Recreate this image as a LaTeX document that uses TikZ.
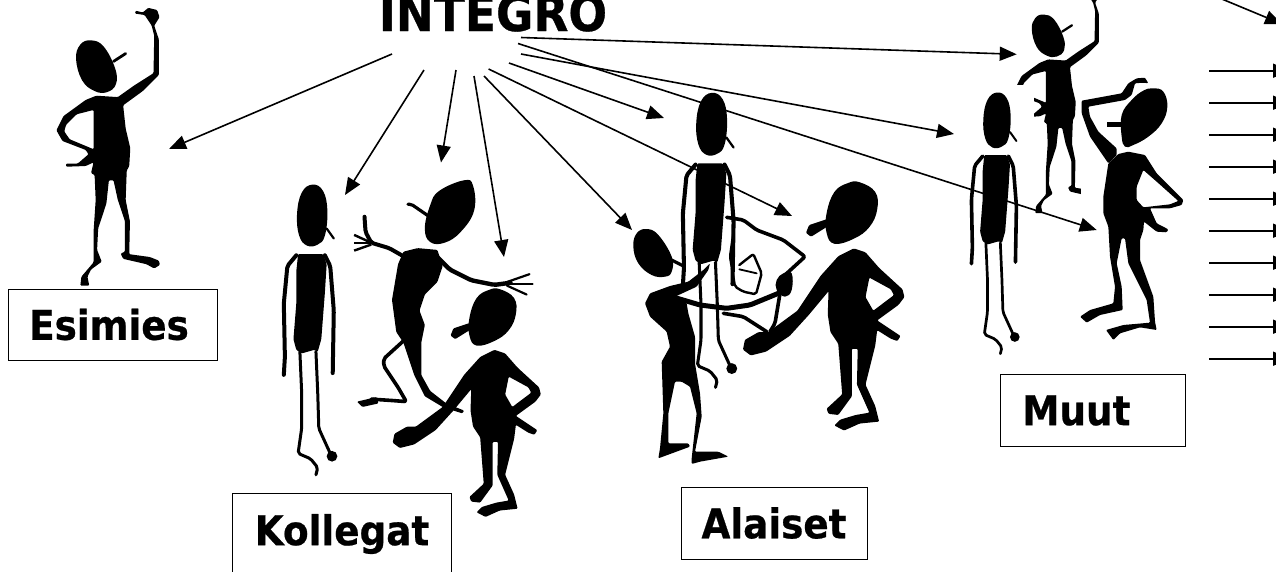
\documentclass[tikz,border=0pt]{standalone}
\usepackage{fontspec}
\setmainfont{DejaVu Sans Bold}[FakeStretch=0.91,FakeBold=0.6]
\usetikzlibrary{arrows.meta}
\tikzset{
    labelbox/.style={draw, line width=1pt, inner sep=0pt, font=\fontsize{41}{41}\selectfont},
    bigarrow/.style={-{Triangle[length=17pt,width=14pt]}, line width=1.6pt},
    limb/.style={draw=black, line width=#1, line cap=round, line join=round, rounded corners=2pt},
    solid part/.style={fill=black, even odd rule, rounded corners=1pt}
}
% arm up, hand on hip
\newcommand{\waverfig}[3]{
    \begin{scope}[shift={(#1,#2)},scale=#3*0.357]
        \fill plot[smooth cycle,tension=.7] coordinates {(255,113) (290,130) (322,190) (325,235) (300,258) (265,255) (230,225) (213,165) (225,125)};
        \draw[limb=#3*2.8pt] (318,172) -- (352,150);
        \fill[solid part] (270,268) -- (330,272) -- (375,240) -- (430,205) -- (432,100) -- (425,72) -- (405,42) -- (378,38) -- (380,30) -- (400,35) -- (415,22) -- (440,28) -- (447,48) -- (432,72) -- (445,110) -- (445,210) -- (400,255) -- (345,295) -- (352,360) -- (365,415) -- (362,465) -- (355,478) -- (352,560) -- (364,620) -- (362,712) -- (420,720) -- (445,730) -- (448,742) -- (432,752) -- (410,740) -- (345,725) -- (338,710) -- (350,705) -- (350,620) -- (330,560) -- (318,505) -- (305,505) -- (298,570) -- (275,640) -- (272,700) -- (285,733) -- (255,755) -- (245,775) -- (250,800) -- (225,800) -- (228,775) -- (262,735) -- (262,650) -- (268,560) -- (265,490) -- (255,485) -- (262,455) -- (240,465) -- (185,467) -- (185,458) -- (218,458) -- (248,432) -- (240,420) -- (175,395) -- (158,365) -- (178,325) -- (240,280) -- cycle
            (262,308) -- (215,320) -- (185,350) -- (180,368) -- (195,390) -- (262,418) -- cycle;
    \end{scope}
}
% tall and thin, arms down
\newcommand{\thinfig}[3]{
    \begin{scope}[shift={(#1,#2)},scale=#3*0.357]
        \fill plot[smooth cycle,tension=.7] coordinates {(875,517) (905,535) (917,590) (910,660) (890,685) (860,688) (838,660) (832,600) (845,540)};
        \draw[limb=#3*2.2pt] (915,640) -- (935,668);
        \fill[solid part] (835,712) -- (905,712) -- (915,740) -- (910,820) -- (900,950) -- (890,985) -- (880,980) -- (845,990) -- (830,980) -- (822,950) -- (830,850) -- (830,760) -- cycle;
        \draw[limb=#3*3pt] (840,985) -- (845,1100) -- (845,1200) -- (835,1270) -- (870,1285) -- (890,1310) -- (885,1330);
        \draw[limb=#3*3pt] (885,985) -- (890,1100) -- (893,1200) -- (925,1270);
        \fill (930,1278) circle (15);
        \draw[limb=#3*4pt] (830,715) -- (805,745) -- (795,850) -- (798,1000) -- (795,1050);
        \draw[limb=#3*4pt] (910,715) -- (925,745) -- (935,870) -- (932,1045);
    \end{scope}
}
% round body, arm held out
\newcommand{\roundfig}[3]{
    \begin{scope}[shift={(#1,#2)},scale=#3*0.357]
        \fill plot[smooth cycle,tension=.7] coordinates {(1400,810) (1440,835) (1445,880) (1425,925) (1385,955) (1335,968) (1315,940) (1315,890) (1335,835) (1370,812)};
        \fill[solid part] (1315,905) -- (1270,920) -- (1262,940) -- (1275,950) -- (1315,925) -- cycle;
        \fill[solid part] (1385,980) -- (1415,990) -- (1450,1030) -- (1510,1085) -- (1515,1105) -- (1500,1125) -- (1445,1165) -- (1505,1205) -- (1497,1218) -- (1480,1212) -- (1445,1190) -- (1440,1230) -- (1425,1290) -- (1415,1330) -- (1440,1385) -- (1450,1425) -- (1400,1430) -- (1360,1448) -- (1335,1435) -- (1350,1420) -- (1390,1408) -- (1425,1402) -- (1393,1330) -- (1395,1238) -- (1380,1238) -- (1380,1360) -- (1345,1408) -- (1320,1405) -- (1315,1392) -- (1355,1355) -- (1350,1290) -- (1345,1225) -- (1325,1195) -- (1318,1150) -- (1320,1090) -- (1270,1150) -- (1220,1205) -- (1160,1245) -- (1120,1255) -- (1100,1240) -- (1105,1215) -- (1140,1195) -- (1165,1195) -- (1240,1140) -- (1300,1050) -- (1345,1000) -- cycle
            (1425,1055) -- (1480,1085) -- (1488,1100) -- (1435,1140) -- (1415,1105) -- cycle;
    \end{scope}
}
\begin{document}
\begin{tikzpicture}[x=1pt,y=-1pt]
    \useasboundingbox (0,0) rectangle (1276,571);

    \waverfig{0}{0}{1}
    \waverfig{970.2}{-18.1}{0.81}
    \fill[white] (965,85) rectangle (1034,350);
    \fill[white] (1081,75) rectangle (1190,350);

    \foreach \n/\sx/\sy/\tx/\ty in {a/392/54/169/149, b/424/70/345/195, c/456/70/441/162.5, d/474/76/504/257, e/484/76/632/230, f/488.6/69/792/216, g/509/63/664/118, h/521/54/954/134, i/518/43.5/1096.7/230, j/521/37.5/1016.7/54.3, k/1205/-8/1282/24} {
        \coordinate (from\n) at (\sx,\sy);
        \coordinate (to\n) at (\tx,\ty);
        \draw[bigarrow] (from\n) -- (to\n);
    }
    \foreach \i in {0,...,9} {
        \coordinate (left\i) at (1209,70.7+32*\i);
        \coordinate (right\i) at (1290,70.7+32*\i);
        \draw[bigarrow] (left\i) -- (right\i);
    }

    \thinfig{0}{0}{1}
    \thinfig{394.8}{-94.5}{1.015}
    \thinfig{716}{-73.6}{0.9}

    % the one in mid air
    \begin{scope}[scale=0.357]
        \fill plot[smooth cycle,tension=.7] coordinates {(1300,505) (1325,520) (1328,590) (1290,650) (1245,680) (1205,678) (1190,640) (1205,575) (1230,535)};
        \draw[limb=3.2pt] (1143,572) -- (1152,572) -- (1200,605);
        \fill[solid part] (1170,695) -- (1225,700) -- (1240,745) -- (1225,790) -- (1190,825) -- (1175,870) -- (1190,910) -- (1180,960) -- (1180,1050) -- (1205,1095) -- (1250,1130) -- (1300,1150) -- (1295,1158) -- (1240,1140) -- (1190,1110) -- (1160,1050) -- (1130,960) -- (1110,930) -- (1098,840) -- (1115,740) -- (1130,705) -- cycle;
        \draw[limb=4pt] (1125,715) -- (1090,695) -- (1040,680) -- (1024,650) -- (1021,607);
        \draw[limb=2.4pt,line cap=butt] (1040,680) -- (992,658);
        \draw[limb=2.4pt,line cap=butt] (1040,680) -- (992,680);
        \draw[limb=2.4pt,line cap=butt] (1040,685) -- (992,702);
        \draw[limb=4.4pt] (1225,720) -- (1260,755) -- (1320,785) -- (1385,798) -- (1430,792);
        \draw[limb=2.2pt] (1420,790) -- (1483,768);
        \draw[limb=2.2pt] (1420,795) -- (1492,795);
        \draw[limb=2.2pt] (1420,800) -- (1475,825);
        \draw[limb=3.6pt] (1130,955) -- (1075,1005) -- (1075,1025) -- (1115,1085) -- (1138,1125) -- (1100,1122) -- (1040,1118);
        \fill[solid part] (1055,1112) -- (1000,1125) -- (1015,1140) -- (1060,1130) -- cycle;
    \end{scope}
    \roundfig{0}{0}{1}
    \roundfig{314.9}{-132.9}{1.09}

    % the one in front, with the arm through
    \begin{scope}[shift={(600,60)},scale=1/3]
        \fill plot[smooth cycle,tension=.7] coordinates {(140,507) (175,525) (215,590) (215,635) (195,650) (155,645) (115,610) (100,560) (110,520)};
        \draw[limb=3.2pt] (215,600) -- (250,618);
        \fill[solid part] (135,730) -- (150,700) -- (210,678) -- (265,665) -- (310,630) -- (330,610) -- (325,630) -- (290,680) -- (225,710) -- (260,730) -- (265,760) -- (285,830) -- (285,910) -- (300,1000) -- (305,1070) -- (285,1175) -- (355,1175) -- (385,1190) -- (300,1205) -- (275,1212) -- (275,1195) -- (290,1060) -- (270,980) -- (245,965) -- (225,965) -- (205,1060) -- (205,1150) -- (265,1150) -- (270,1160) -- (175,1195) -- (180,1165) -- (190,1060) -- (185,905) -- (210,860) -- (200,815) -- (150,770) -- cycle;
        \draw[limb=5pt] (215,710) -- (300,735) -- (380,745) -- (450,735) -- (535,700);
        \fill plot[smooth cycle,tension=.7] coordinates {(530,660) (550,640) (575,640) (575,690) (555,710) (530,690)};
        \draw[limb=3.6pt] (380,472) -- (430,480) -- (470,510) -- (550,540) -- (615,590) -- (555,645);
        \draw[limb=3.6pt] (540,700) -- (525,790) -- (510,815);
        \draw[limb=3.6pt] (370,760) -- (430,770) -- (500,815);
        \draw[limb=2.4pt] (400,520) -- (390,590) -- (405,680) -- (430,695) -- (468,703) -- (485,640) -- (460,582) -- (418,615);
        \draw[limb=1.8pt] (418,628) -- (470,640);
    \end{scope}

    % scratching his head
    \begin{scope}[shift={(940,0)},scale=1/3]
        \fill plot[smooth cycle,tension=.7] coordinates {(640,265) (670,275) (682,320) (665,370) (625,410) (580,435) (555,440) (545,410) (545,345) (575,300) (610,272)};
        \fill (500,365) rectangle (545,382);
        \fill[solid part] (425,302) -- (545,280) -- (565,250) -- (590,235) -- (615,233) -- (625,250) -- (610,248) -- (585,250) -- (575,285) -- (555,300) -- (445,320) -- (450,350) -- (475,395) -- (530,445) -- (530,465) -- (505,490) -- (450,410) -- (425,340) -- cycle;
        \fill[solid part] (565,455) -- (615,465) -- (650,520) -- (730,600) -- (725,615) -- (690,625) -- (630,625) -- (650,670) -- (685,688) -- (680,697) -- (650,695) -- (612,665) -- (610,690) -- (600,720) -- (600,780) -- (640,890) -- (645,965) -- (650,990) -- (600,982) -- (540,1000) -- (520,1020) -- (498,990) -- (550,975) -- (630,968) -- (620,900) -- (565,790) -- (555,715) -- (545,715) -- (530,790) -- (545,860) -- (548,930) -- (480,945) -- (440,968) -- (420,950) -- (450,930) -- (520,910) -- (525,860) -- (510,770) -- (505,680) -- (490,640) -- (490,590) -- (505,490) -- (535,462) -- cycle
            (610,510) -- (590,560) -- (590,600) -- (610,622) -- (690,613) -- (715,603) -- (650,545) -- cycle;
    \end{scope}

    \node[font=\fontsize{50}{50}\selectfont,inner sep=0pt,anchor=base] (integro) at (493,31) {INTEGRO};
    \node[labelbox,minimum width=209pt,minimum height=71pt] (esimies) at (112.5,324.5) {Esimies\hspace*{7pt}};
    \node[labelbox,minimum width=219.5pt,minimum height=82pt] (kollegat) at (342,534) {Kollegat};
    \node[labelbox,minimum width=186pt,minimum height=72pt] (alaiset) at (774,523) {Alaiset};
    \node[labelbox,minimum width=185pt,minimum height=72pt] (muut) at (1093.4,410.5) {Muut\hspace*{34pt}};
\end{tikzpicture}
\end{document}
